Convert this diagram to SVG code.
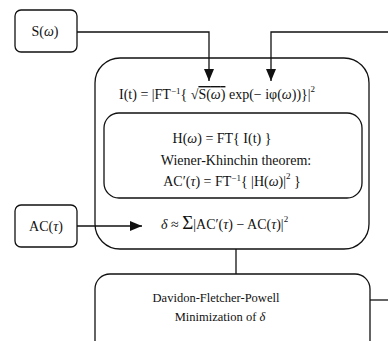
<svg xmlns="http://www.w3.org/2000/svg" width="388" height="341" viewBox="0 0 388 341">
<defs>
<style>
.box{fill:#fff;stroke:#111;stroke-width:1.3}
.ln{fill:none;stroke:#111;stroke-width:1.3}
text{font-family:"Liberation Serif","Times New Roman",serif;font-size:14px;fill:#111}
.c{text-anchor:middle}
.sup{font-size:9px}
.sm{font-size:12.5px}
.big{font-size:19px}
</style>
<marker id="ah" viewBox="0 0 12 10" refX="12" refY="5" markerWidth="12" markerHeight="10" markerUnits="userSpaceOnUse" orient="auto">
<path d="M0,0 L12,5 L0,10 Z" fill="#111"/>
</marker>
</defs>
<rect width="388" height="341" fill="#fff"/>
<g id="s-omega">
<rect class="box" x="15" y="10" width="62" height="42" rx="6"/>
<text x="45" y="36" class="c">S(<tspan font-style="italic">ω</tspan>)</text>
</g>
<g id="outer">
<rect class="box" x="95" y="58" width="274" height="191" rx="25"/>
<text x="119" y="99">I(t) = |FT<tspan class="sup" dy="-5">−1</tspan><tspan dy="5">{ √</tspan><tspan text-decoration="overline">S(<tspan font-style="italic">ω</tspan>)</tspan> exp(− iφ(<tspan font-style="italic">ω</tspan>))}|<tspan class="sup" dy="-7">2</tspan></text>
<text x="161" y="229"><tspan font-style="italic">δ</tspan> ≈ <tspan class="big">Σ</tspan>|AC′(<tspan font-style="italic">τ</tspan>) − AC(<tspan font-style="italic">τ</tspan>)|<tspan class="sup" dy="-7">2</tspan></text>
</g>
<g id="inner">
<rect class="box" x="104" y="113" width="258" height="85" rx="15"/>
<text x="222" y="143" class="c">H(<tspan font-style="italic">ω</tspan>) = FT{ I(t) }</text>
<text x="236" y="165" class="c">Wiener-Khinchin theorem:</text>
<text x="232" y="186" class="c">AC′(<tspan font-style="italic">τ</tspan>) = FT<tspan class="sup" dy="-5">−1</tspan><tspan dy="5">{ |H(</tspan><tspan font-style="italic">ω</tspan>)|<tspan class="sup" dy="-7">2</tspan><tspan dy="7"> }</tspan></text>
</g>
<g id="ac-tau">
<rect class="box" x="15" y="205" width="62" height="42" rx="6"/>
<text x="46" y="231" class="c">AC(<tspan font-style="italic">τ</tspan>)</text>
</g>
<g id="dfp">
<rect class="box" x="95" y="274" width="275" height="90" rx="15"/>
<text x="216" y="302" class="c sm">Davidon-Fletcher-Powell</text>
<text x="220" y="321" class="c sm">Minimization of <tspan font-style="italic">δ</tspan></text>
</g>
<g id="connectors">
<path class="ln" d="M77,32 H209 V81" marker-end="url(#ah)"/>
<path class="ln" d="M388,32 H271 V81" marker-end="url(#ah)"/>
<path class="ln" d="M77,226 H142" marker-end="url(#ah)"/>
<path class="ln" d="M236,249 V274"/>
<path class="ln" d="M370,300 H388"/>
</g>
</svg>
